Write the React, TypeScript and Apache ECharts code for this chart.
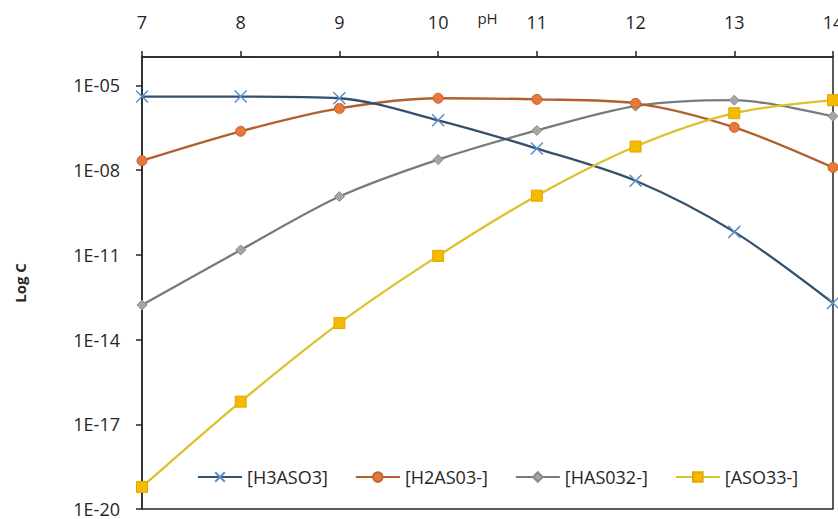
import React, { useEffect, useRef } from "react";
import * as echarts from "echarts";

const pH = [7, 8, 9, 10, 11, 12, 13, 14];
const seriesNames = ["[H3ASO3]", "[H2AS03-]", "[HAS032-]", "[ASO33-]"];
// log10 of concentration
const h3aso3 = [-5.4, -5.4, -5.46, -6.24, -7.24, -8.38, -10.19, -12.71];
const h2aso3 = [-7.67, -6.63, -5.82, -5.46, -5.5, -5.64, -6.49, -7.91];
const haso32 = [-12.78, -10.83, -8.94, -7.63, -6.6, -5.74, -5.53, -6.1];
const aso33 = [-19.22, -16.2, -13.42, -11.04, -8.91, -7.17, -5.99, -5.53];
const yTicks = [-20, -17, -14, -11, -8, -5];

const FONT = "'Open Sans', sans-serif";
const SMOOTH = 0.3;

export default function App() {
  const ref = useRef<HTMLDivElement>(null);
  useEffect(() => {
    if (!ref.current) return;
    const chart = echarts.init(ref.current, null, { renderer: "svg" });
    const mk = (vals: number[]) => vals.map((v, i) => [pH[i], v]);
    const lineStyleBase = { width: 2.3 };
    chart.setOption({
      animation: false,
      backgroundColor: "#ffffff",
      textStyle: { fontFamily: FONT },
      grid: {
        left: 142,
        right: 5,
        top: 57,
        bottom: 10,
        show: true,
        borderColor: "#262626",
        borderWidth: 1.5,
        outerBoundsMode: "none",
        containLabel: false,
      },
      legend: {
        left: 192,
        top: 463,
        itemWidth: 44,
        itemHeight: 12,
        itemGap: 27,
        textStyle: { fontFamily: FONT, fontSize: 18, color: "#262626" },
        data: seriesNames,
      },
      xAxis: {
        type: "value",
        position: "top",
        min: 7,
        max: 14,
        interval: 1,
        name: "pH",
        nameLocation: "middle",
        nameGap: 32,
        nameMoveOverlap: false,
        nameTextStyle: { fontFamily: FONT, fontSize: 15, color: "#262626" },
        axisLine: { show: true, lineStyle: { color: "#262626", width: 1.5 } },
        axisTick: { show: true, inside: false, length: 6, lineStyle: { color: "#262626", width: 1.5 } },
        axisLabel: { margin: 26, fontFamily: FONT, fontSize: 18, color: "#262626" },
        splitLine: { show: false },
      },
      yAxis: {
        type: "value",
        min: -20,
        max: -4,
        name: "Log C",
        nameLocation: "middle",
        nameRotate: 90,
        nameGap: 115,
        nameMoveOverlap: false,
        nameTextStyle: { fontFamily: FONT, fontSize: 15, fontWeight: "bold", color: "#262626" },
        axisLine: { show: true, lineStyle: { color: "#262626", width: 1.5 } },
        axisTick: {
          show: true,
          length: 6,
          customValues: yTicks,
          lineStyle: { color: "#262626", width: 1.5 },
        },
        axisLabel: {
          margin: 22,
          fontFamily: FONT,
          fontSize: 18,
          color: "#262626",
          customValues: yTicks,
          formatter: (v: number) => "1E-" + String(Math.round(-v)).padStart(2, "0"),
        },
        splitLine: { show: false },
      },
      series: [
        {
          name: seriesNames[0],
          type: "line",
          smooth: SMOOTH,
          clip: false,
          data: mk(h3aso3),
          symbol: "path://M0,0L10,10M10,0L0,10",
          symbolSize: 12,
          lineStyle: { ...lineStyleBase, color: "#34506E" },
          itemStyle: { color: "#5B8FC8", borderColor: "#5B8FC8", borderWidth: 1.5 },
          z: 4,
        },
        {
          name: seriesNames[1],
          type: "line",
          smooth: SMOOTH,
          clip: false,
          data: mk(h2aso3),
          symbol: "circle",
          symbolSize: 10,
          lineStyle: { ...lineStyleBase, color: "#B0602C" },
          itemStyle: { color: "#E8783A", borderColor: "#C0662F", borderWidth: 1 },
          z: 3,
        },
        {
          name: seriesNames[2],
          type: "line",
          smooth: SMOOTH,
          clip: false,
          data: mk(haso32),
          symbol: "diamond",
          symbolSize: 10,
          lineStyle: { ...lineStyleBase, color: "#7A7A7A" },
          itemStyle: { color: "#A5A5A5", borderColor: "#8A8A8A", borderWidth: 1 },
          z: 2,
        },
        {
          name: seriesNames[3],
          type: "line",
          smooth: SMOOTH,
          clip: false,
          data: mk(aso33),
          symbol: "rect",
          symbolSize: 11,
          lineStyle: { ...lineStyleBase, color: "#DCC22A" },
          itemStyle: { color: "#F5BA00", borderColor: "#E0A800", borderWidth: 1 },
          z: 5,
        },
      ],
    });
    return () => chart.dispose();
  }, []);
  return (
    <div
      ref={ref}
      style={{ position: "fixed", left: 0, top: 0, width: 838, height: 519, background: "#fff" }}
    />
  );
}
